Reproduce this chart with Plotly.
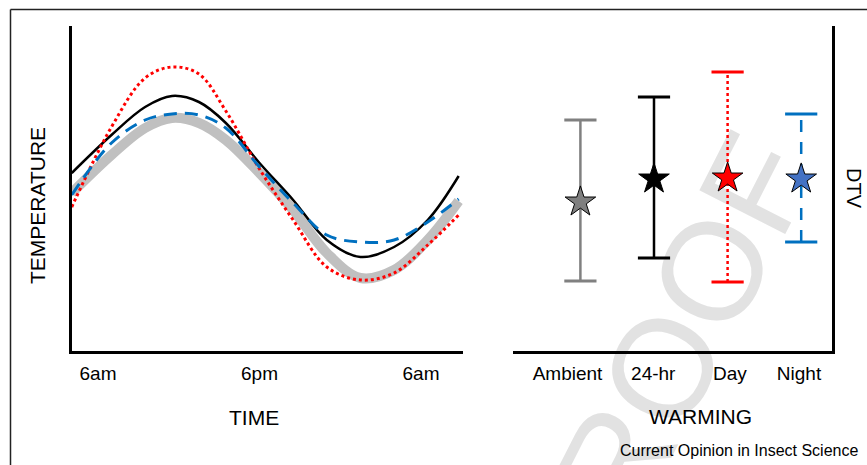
import plotly.graph_objects as go

# ---------------- data ----------------
# Left panel: hours after 6am
hours = [-1.95, 1, 3.5, 5.5, 7.5, 9.5, 12, 14.5, 17, 19.5, 22, 24.5, 26.8]
ambient_temp = [15.9, 19.7, 22.4, 23.4, 22.9, 21.2, 17.9, 14.2, 9.9, 7.4, 8.2, 11.2, 15.1]
warm24_temp = [17.9, 21.7, 24.5, 25.6, 25.0, 22.9, 18.9, 15.2, 11.2, 9.5, 10.5, 13.2, 17.6]
day_temp = [14.5, 22.5, 27.4, 28.5, 27.8, 24.1, 18.3, 13.2, 8.5, 7.2, 7.9, 10.7, 13.7]
night_temp = [15.7, 20.9, 23.2, 23.8, 23.7, 22.4, 18.5, 14.9, 11.7, 11.0, 11.2, 13.0, 15.3]
time_tickvals = [0, 12, 24]
time_ticktext = ["6am", "6pm", "6am"]

# Right panel: DTV by warming treatment
treatments = ["Ambient", "24-hr", "Day", "Night"]
dtv_mean = [15.0, 17.3, 17.4, 17.3]
dtv_low = [7.1, 9.4, 7.0, 11.0]
dtv_high = [23.2, 25.5, 28.0, 23.8]

# ---------------- styling ----------------
FONT = "Liberation Sans, Arial, Helvetica, sans-serif"
W, H = 867, 465
bar_colors = ["#808080", "#000000", "#ff0000", "#0070c0"]
bar_dash = ["solid", "solid", "dot", "12px,10px"]
star_colors = ["#7f7f7f", "#000000", "#ff0000", "#4472c4"]
label_offsets = [-0.175, -0.01, 0.03, -0.03]


def px(x):
    return x / W


def py(y):
    return 1 - y / H


fig = go.Figure()

# left panel curves
fig.add_trace(go.Scatter(x=hours, y=ambient_temp, mode="lines",
                         line=dict(color="#c0c0c0", width=10, shape="spline"),
                         xaxis="x", yaxis="y", showlegend=False))
fig.add_trace(go.Scatter(x=hours, y=warm24_temp, mode="lines",
                         line=dict(color="#000000", width=2.5, shape="spline"),
                         xaxis="x", yaxis="y", showlegend=False))
fig.add_trace(go.Scatter(x=hours, y=day_temp, mode="lines",
                         line=dict(color="#ff0000", width=3, dash="dot", shape="spline"),
                         xaxis="x", yaxis="y", showlegend=False))
fig.add_trace(go.Scatter(x=hours, y=night_temp, mode="lines",
                         line=dict(color="#0070c0", width=3, dash="13px,8px", shape="spline"),
                         xaxis="x", yaxis="y", showlegend=False))

# right panel error bars + stars
for i, t in enumerate(treatments):
    fig.add_trace(go.Scatter(
        x=[i, i], y=[dtv_low[i], dtv_high[i]], mode="lines+markers",
        line=dict(color=bar_colors[i], width=2.5, dash=bar_dash[i]),
        marker=dict(symbol="line-ew", size=23,
                    line=dict(color=bar_colors[i], width=3)),
        xaxis="x2", yaxis="y2", showlegend=False))
    fig.add_trace(go.Scatter(
        x=[i], y=[dtv_mean[i]], mode="markers",
        marker=dict(symbol="star", size=23, color=star_colors[i],
                    line=dict(color="#000000", width=1)),
        xaxis="x2", yaxis="y2", showlegend=False))

# axis geometry
yd = [py(350.5), py(26)]
yr = [0.15, 32.6]
x1_px0 = 98.0
x1_scale = 161.5 / 12
x2_px0 = 580.4
x2_scale = 73.6

axis_common = dict(showgrid=False, zeroline=False, ticks="", fixedrange=True,
                   linecolor="#000000", linewidth=3, showline=True)

fig.update_layout(
    width=W, height=H,
    margin=dict(l=0, r=0, t=0, b=0),
    paper_bgcolor="white", plot_bgcolor="rgba(0,0,0,0)",
    font=dict(family=FONT, color="#000000"),
    xaxis=dict(domain=[px(71.5), px(463)],
               range=[(71.5 - x1_px0) / x1_scale, (463 - x1_px0) / x1_scale],
               tickvals=time_tickvals, ticktext=time_ticktext,
               tickfont=dict(size=19), ticklabelstandoff=4,
               anchor="y", **axis_common),
    yaxis=dict(domain=yd, range=yr, showticklabels=False, anchor="x",
               **axis_common),
    xaxis2=dict(domain=[px(513), px(831.5)],
                range=[(513 - x2_px0) / x2_scale, (831.5 - x2_px0) / x2_scale],
                tickvals=[i + label_offsets[i] for i in range(len(treatments))],
                ticktext=treatments, tickfont=dict(size=19), ticklabelstandoff=4,
                anchor="y2", **axis_common),
    yaxis2=dict(domain=yd, range=yr, showticklabels=False, anchor="x2",
                side="right", **axis_common),
)

# frame lines
fig.add_shape(type="line", xref="paper", yref="paper",
              x0=px(10.5), x1=1, y0=py(9.5), y1=py(9.5),
              line=dict(color="#222222", width=1.5))
fig.add_shape(type="line", xref="paper", yref="paper",
              x0=px(10.5), x1=px(10.5), y0=py(9.5), y1=0,
              line=dict(color="#222222", width=1.5))

# watermark
fig.add_shape(type="rect", xref="paper", yref="paper", layer="below",
              x0=px(641), x1=px(661), y0=py(372), y1=py(352),
              line=dict(width=0), fillcolor="rgba(0,0,0,0)",
              label=dict(text="PROOF", textangle=-63, textposition="middle center",
                         font=dict(size=140, color="#e2e2e2", family=FONT)))

# texts
ann = [
    dict(text="TIME", x=px(254), y=py(417), size=21, angle=0),
    dict(text="WARMING", x=px(700), y=py(416), size=21, angle=0),
    dict(text="TEMPERATURE", x=px(37), y=py(206), size=21, angle=-90),
    dict(text="DTV", x=px(854), y=py(188), size=20, angle=90),
    dict(text="Current Opinion in Insect Science", x=px(739), y=py(450), size=16, angle=0),
]
for a in ann:
    fig.add_annotation(text=a["text"], x=a["x"], y=a["y"], xref="paper", yref="paper",
                       xanchor="center", yanchor="middle", showarrow=False,
                       textangle=a["angle"], font=dict(size=a["size"], family=FONT))

fig.write_html("out.html", config={"displayModeBar": False},
               post_script="document.body.style.margin='0';document.body.style.overflow='hidden';")
